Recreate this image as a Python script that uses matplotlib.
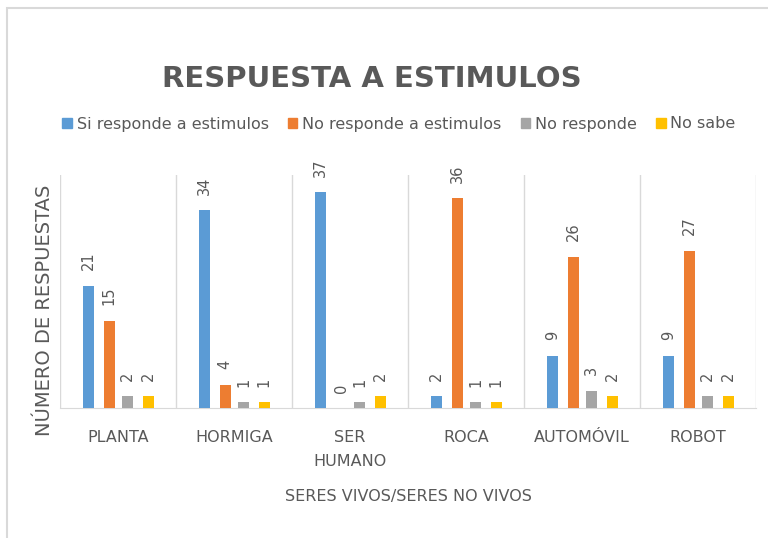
import numpy as np
import matplotlib
matplotlib.use("Agg")
import matplotlib.pyplot as plt
from matplotlib.patches import Rectangle, Patch

# data
categorias = ['PLANTA', 'HORMIGA', 'SER\nHUMANO', 'ROCA', 'AUTOMÓVIL', 'ROBOT']
series = ['Si responde a estimulos', 'No responde a estimulos', 'No responde', 'No sabe']
si_responde = [21, 34, 37, 2, 9, 9]
no_responde_est = [15, 4, 0, 36, 26, 27]
no_responde = [2, 1, 1, 1, 3, 2]
no_sabe = [2, 1, 2, 1, 2, 2]
colores = ['#5B9BD5', '#ED7D31', '#A5A5A5', '#FFC000']

texto = '#595959'
narrow = ['DejaVu Sans Condensed', 'Liberation Sans Narrow', 'DejaVu Sans']

fig = plt.figure(figsize=(7.68, 5.38), dpi=100)
# marco del grafico
fig.patches.append(Rectangle((7 / 768, -0.1), 1.2, 1 - 8.5 / 538 + 0.1,
                             transform=fig.transFigure, fill=False,
                             edgecolor='#d9d9d9', linewidth=1.5))

ax = fig.add_axes([60 / 768, 1 - 408 / 538, 696 / 768, 233 / 538])

x = np.arange(len(categorias))
offsets = [-0.255, -0.075, 0.085, 0.26]
ancho = 0.095
valores = [si_responde, no_responde_est, no_responde, no_sabe]
for vals, off, col, nombre in zip(valores, offsets, colores, series):
    bars = ax.bar(x + off, vals, width=ancho, color=col, label=nombre, zorder=3)
    for b, v in zip(bars, vals):
        ax.annotate(str(v), (b.get_x() + b.get_width() / 2, v),
                    xytext=(0, 11), textcoords='offset points',
                    ha='center', va='bottom', rotation=90,
                    fontsize=10.5, color=texto)

ax.set_xlim(-0.5, len(categorias) - 0.5)
ax.set_ylim(0, 40)
ax.set_yticks([])
for b in np.arange(-0.5, len(categorias), 1):
    ax.axvline(b, color='#d9d9d9', linewidth=1, zorder=1)
for s in ['top', 'right', 'left']:
    ax.spines[s].set_visible(False)
ax.spines['bottom'].set_color('#d9d9d9')
ax.set_xticks(x)
ax.set_xticklabels(categorias, fontsize=11.5, color=texto, linespacing=1.75)
ax.tick_params(axis='x', length=0, pad=16)

fig.text(372 / 768, 1 - 79 / 538, 'RESPUESTA A ESTIMULOS', ha='center', va='center',
         fontsize=21, fontweight='bold', color=texto, family=narrow)

handles = [Patch(color=c) for c in colores]
fig.legend(handles, series, loc='center', bbox_to_anchor=(399 / 768, 1 - 124 / 538),
           ncol=4, frameon=False, handlelength=0.6, handleheight=0.6,
           handletextpad=0.3, columnspacing=1.2,
           prop={'family': narrow, 'size': 11.5}, labelcolor=texto)

fig.text(45 / 768, 1 - 310 / 538, 'NÚMERO DE RESPUESTAS', rotation=90,
         ha='center', va='center', fontsize=14, color=texto)
fig.text(408 / 768, 1 - 497 / 538, 'SERES VIVOS/SERES NO VIVOS', ha='center',
         va='center', fontsize=11.5, color=texto, family=narrow)

fig.savefig('out.png', dpi=100)
